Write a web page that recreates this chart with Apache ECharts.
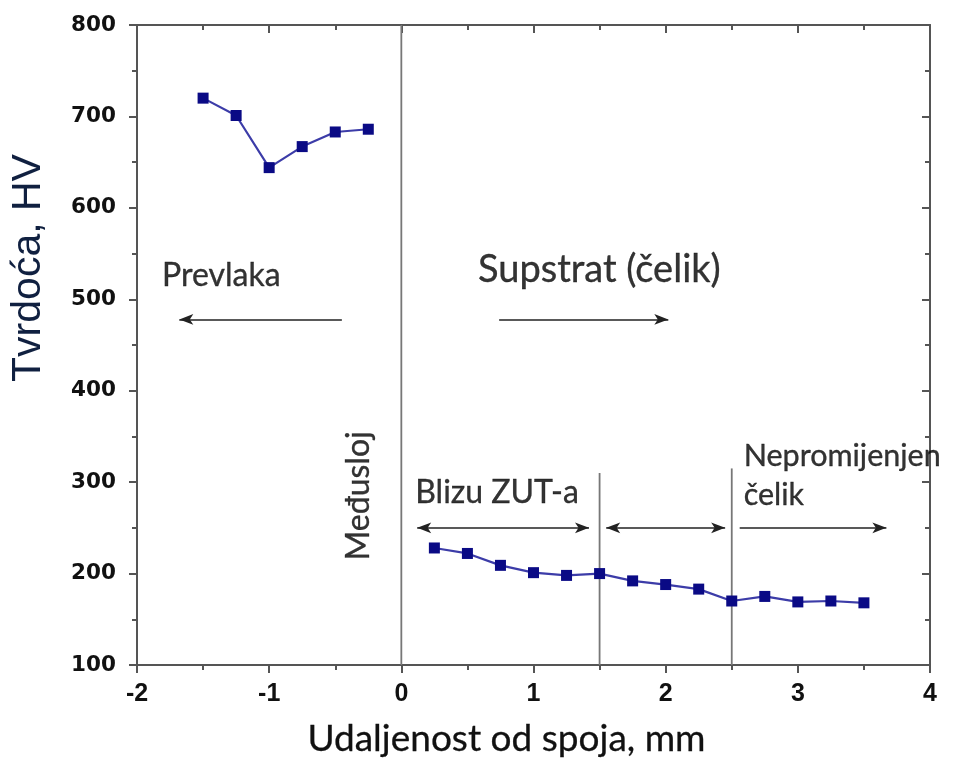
<!DOCTYPE html>
<html><head><meta charset="utf-8">
<script src="https://cdn.jsdelivr.net/npm/echarts@6/dist/echarts.min.js"></script>
<style>html,body{margin:0;padding:0;background:#fff}#c{width:966px;height:762px}</style>
</head><body><div id="c"></div>
<script>
// Data
const coatingX = [-1.5, -1.25, -1, -0.75, -0.5, -0.25];
const coatingHV = [720, 701, 644, 667, 683, 686];
const steelX = [0.25, 0.5, 0.75, 1, 1.25, 1.5, 1.75, 2, 2.25, 2.5, 2.75, 3, 3.25, 3.5];
const steelHV = [228, 222, 209, 201, 198, 200, 192, 188, 183, 170, 175, 169, 170, 168];
const xTicks = [-2, -1, 0, 1, 2, 3, 4];
const yTicks = [100, 200, 300, 400, 500, 600, 700, 800];
// zone boundary lines: [x, yTop]
const boundaries = [[0, 800], [1.5, 310], [2.5, 315]];
// arrows: [x1, x2, y, both-ends]
const arrows = [[-0.45, -1.68, 478, false], [0.74, 2.02, 478, false], [0.12, 1.42, 250, true], [1.55, 2.45, 250, true], [2.56, 3.67, 250, false]];
// annotations: [x, y, text, fontSize, rotate]
const notes = [
  [-1.81, 526, 'Prevlaka', 32, 0],
  [0.58, 532, 'Supstrat (čelik)', 38, 0],
  [0.105, 288, 'Blizu ZUT-a', 32, 0],
  [2.59, 328, 'Nepromijenjen', 30.5, 0],
  [2.59, 286, 'čelik', 30.5, 0],
  [-0.32, 285, 'Međusloj', 32, 90]
];

const chart = echarts.init(document.getElementById('c'));
const axisCol = '#555';
const calibriLike = 'Lato, Open Sans, sans-serif';
const series = [];
boundaries.forEach(b => series.push({
  type: 'line', data: [[b[0], 100], [b[0], b[1]]], symbol: 'none', silent: true,
  lineStyle: {color: '#777', width: 1.8}, z: 1
}));
series.push({
  type: 'line', data: [], symbol: 'none', silent: true,
  markLine: {
    silent: true, symbolSize: [8, 14], label: {show: false},
    lineStyle: {color: '#222', width: 1.6, type: 'solid'},
    data: arrows.map(a => [
      {coord: [a[0], a[2]], symbol: a[3] ? 'arrow' : 'none'},
      {coord: [a[1], a[2]], symbol: 'arrow'}
    ])
  }
});
series.push({
  type: 'line', data: coatingX.map((x, i) => [x, coatingHV[i]]),
  symbol: 'rect', symbolSize: 11, itemStyle: {color: '#0a0a85'},
  lineStyle: {color: '#3c3ca8', width: 2.2}, z: 5
});
series.push({
  type: 'line', data: steelX.map((x, i) => [x, steelHV[i]]),
  symbol: 'rect', symbolSize: 11, itemStyle: {color: '#0a0a85'},
  lineStyle: {color: '#3c3ca8', width: 2.2}, z: 5
});
series.push({
  type: 'scatter', symbolSize: 0, silent: true,
  data: notes.map(n => ({
    value: [n[0], n[1]],
    label: {
      show: true, formatter: n[2], fontSize: n[3], rotate: n[4],
      position: n[4] ? 'inside' : 'right', distance: 0,
      align: n[4] ? 'center' : 'left', verticalAlign: 'middle',
      fontFamily: calibriLike, color: '#000',
      textBorderColor: '#000', textBorderWidth: 0.35
    }
  }))
});

chart.setOption({
  animation: false,
  grid: {left: 137, right: 36, top: 25, bottom: 97, containLabel: false, outerBoundsMode: 'none'},
  xAxis: [{
    type: 'value', min: xTicks[0], max: xTicks[xTicks.length - 1], interval: 1,
    name: 'Udaljenost od spoja, mm', nameLocation: 'middle', nameGap: 56,
    nameTextStyle: {fontFamily: calibriLike, fontSize: 37, color: '#111', padding: [0, 54, 0, 0], textBorderColor: '#111', textBorderWidth: 0.3},
    axisLine: {show: true, onZero: false, lineStyle: {color: axisCol, width: 2}},
    axisTick: {show: true, inside: false, length: 8, lineStyle: {color: axisCol, width: 2}},
    minorTick: {show: true, splitNumber: 2, length: 5, lineStyle: {color: axisCol, width: 2}},
    axisLabel: {margin: 17, fontFamily: 'Liberation Sans Narrow, Arial Narrow, Liberation Sans', fontWeight: 'bold', fontSize: 25, color: '#111'},
    splitLine: {show: false}
  }, {
    type: 'value', position: 'top', min: xTicks[0], max: xTicks[xTicks.length - 1], interval: 1,
    axisLine: {show: true, onZero: false, lineStyle: {color: axisCol, width: 2}},
    axisTick: {show: true, inside: true, length: 8, lineStyle: {color: axisCol, width: 2}},
    minorTick: {show: true, splitNumber: 2, length: 5, lineStyle: {color: axisCol, width: 2}},
    axisLabel: {show: false}, splitLine: {show: false}
  }],
  yAxis: [{
    type: 'value', min: yTicks[0], max: yTicks[yTicks.length - 1], interval: 100,
    name: 'Tvrdoća, HV', nameLocation: 'middle', nameGap: 88,
    nameTextStyle: {fontFamily: 'Liberation Sans, Arial', fontSize: 41, color: '#102040', padding: [0, 0, 0, 154]},
    axisLine: {show: true, onZero: false, lineStyle: {color: axisCol, width: 2}},
    axisTick: {show: true, inside: false, length: 8, lineStyle: {color: axisCol, width: 2}},
    minorTick: {show: true, splitNumber: 2, length: 5, lineStyle: {color: axisCol, width: 2}},
    axisLabel: {margin: 21, fontFamily: 'DejaVu Sans', fontWeight: 'bold', fontSize: 21.5, color: '#111'},
    splitLine: {show: false}
  }, {
    type: 'value', position: 'right', min: yTicks[0], max: yTicks[yTicks.length - 1], interval: 100,
    axisLine: {show: true, onZero: false, lineStyle: {color: axisCol, width: 2}},
    axisTick: {show: true, inside: true, length: 8, lineStyle: {color: axisCol, width: 2}},
    minorTick: {show: true, splitNumber: 2, length: 5, lineStyle: {color: axisCol, width: 2}},
    axisLabel: {show: false}, splitLine: {show: false}
  }],
  series: series
});
</script></body></html>
